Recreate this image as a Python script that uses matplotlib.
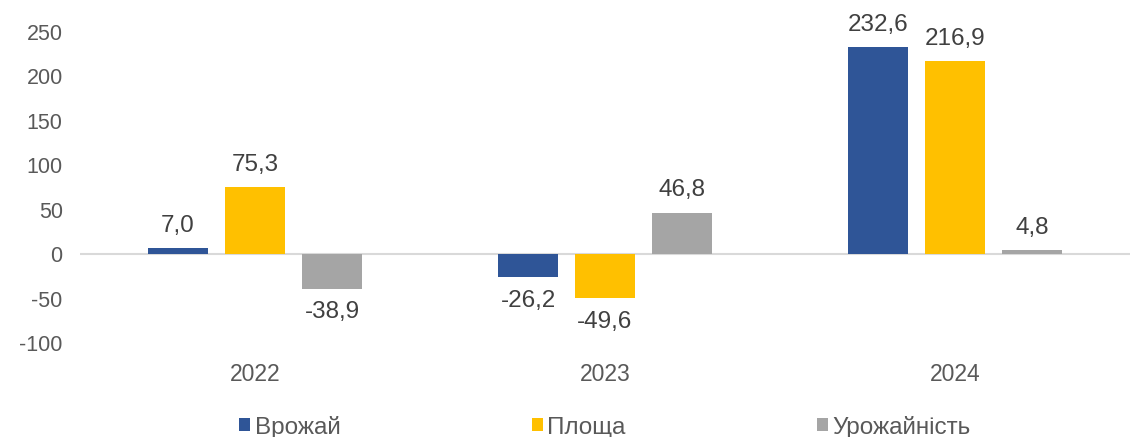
import matplotlib
matplotlib.use("Agg")
import matplotlib.pyplot as plt
import numpy as np

years = ["2022", "2023", "2024"]
series_names = ["Врожай", "Площа", "Урожайність"]
vrozhai = [7.0, -26.2, 232.6]
ploshcha = [75.3, -49.6, 216.9]
urozhainist = [-38.9, 46.8, 4.8]
colors = ["#2F5597", "#FFC000", "#A5A5A5"]

plt.rcParams['font.family'] = ['Liberation Sans', 'DejaVu Sans']
plt.rcParams['axes.unicode_minus'] = False

fig = plt.figure(figsize=(11.37, 4.37), dpi=100)
ax = fig.add_axes([0.0704, 0.215, 0.9234, 0.7118])

x = np.arange(len(years))
w = 0.174
step = 0.22
data = [vrozhai, ploshcha, urozhainist]
for i, (vals, c, name) in enumerate(zip(data, colors, series_names)):
    pos = x + (i - 1) * step
    bars = ax.bar(pos, vals, width=w, color=c, label=name, zorder=3)
    for b, v in zip(bars, vals):
        lbl = f"{v:.1f}".replace(".", ",")
        if v >= 0:
            ax.annotate(lbl, (b.get_x() + b.get_width() / 2, v), xytext=(0, 8),
                        textcoords="offset points", ha="center", va="bottom",
                        fontsize=17.5, color="#404040")
        else:
            ax.annotate(lbl, (b.get_x() + b.get_width() / 2, v), xytext=(0, -9),
                        textcoords="offset points", ha="center", va="top",
                        fontsize=17.5, color="#404040")

ax.set_xlim(-0.5, 2.5)
ax.set_ylim(-100, 250)
ax.set_yticks(np.arange(-100, 251, 50))
ax.set_xticks(x)
ax.set_xticklabels(years)
ax.axhline(0, color="#D9D9D9", lw=1.5, zorder=2)
for s in ax.spines.values():
    s.set_visible(False)
ax.tick_params(axis="y", length=0, labelsize=15.5, colors="#595959", pad=12.5)
ax.tick_params(axis="x", length=0, labelsize=16.5, colors="#595959", pad=14.5)

leg = ax.legend(loc="center", bbox_to_anchor=(0.5, -0.27), ncol=3, frameon=False,
                handlelength=0.45, handleheight=0.45, handletextpad=0.2,
                columnspacing=7.85, prop={'size': 17.5})
for t in leg.get_texts():
    t.set_color("#595959")

fig.savefig("out.png", dpi=100)
